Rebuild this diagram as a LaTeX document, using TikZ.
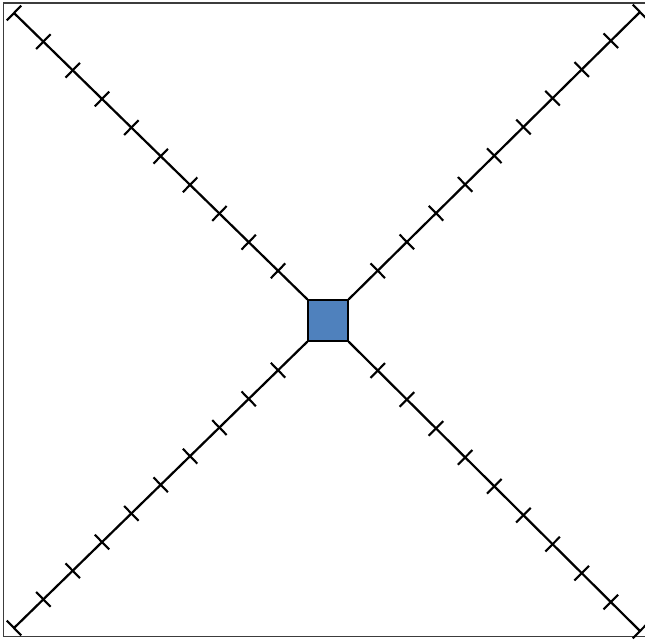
\documentclass[tikz,border=0pt]{standalone}
\usepackage{tikz}
\usepackage{xcolor}
\usetikzlibrary{positioning,calc}
\definecolor{hubBlue}{RGB}{79,129,189}
\definecolor{frameGray}{RGB}{60,60,60}

\begin{document}
\begin{tikzpicture}[x=0.03cm, y=-0.03cm, arm/.style={line width=1.9pt, black}, tick/.style={line width=1.8pt, black}]
            \useasboundingbox (0,0) rectangle (645,639);
            \draw[frameGray, line width=1.4pt] (645,3) -- (3.5,3) -- (3.5,636.5) -- (645,636.5);
            \node[draw, fill=hubBlue, line width=1pt, inner sep=0, minimum width=1.2cm, minimum height=1.23cm] (hub) at (328,320.5) {};
            \coordinate (tl) at (14,13);
            \coordinate (tr) at (640,12);
            \coordinate (bl) at (14,628);
            \coordinate (br) at (640,631);
            \foreach \c/\e in {north west/tl, north east/tr, south west/bl, south east/br} {
                \draw[arm] (hub.\c) -- (\e);
                \foreach \i in {1,...,10}
                    \draw[tick] ($($(hub.\c)!\i/10!(\e)$)!0.31cm!90:(hub.\c)$) -- ($($(hub.\c)!\i/10!(\e)$)!0.31cm!-90:(hub.\c)$);
            }
        \end{tikzpicture}
\end{document}
